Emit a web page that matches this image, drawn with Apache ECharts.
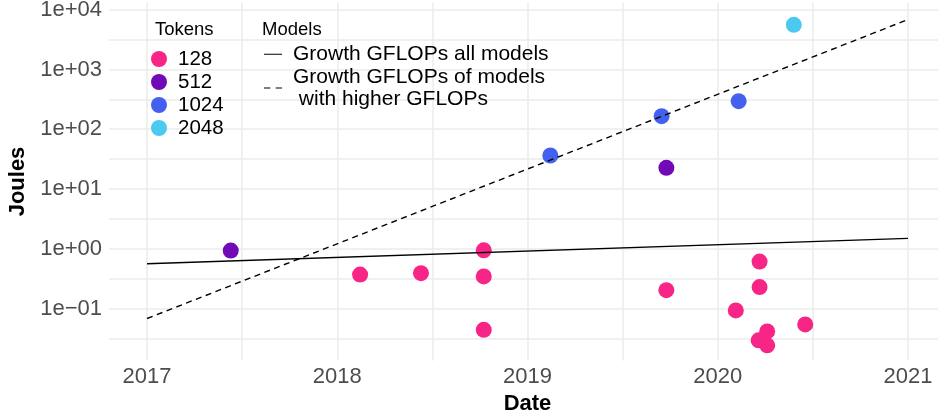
<!DOCTYPE html>
<html>
<head>
<meta charset="utf-8">
<script src="https://cdn.jsdelivr.net/npm/echarts@6/dist/echarts.min.js"></script>
<style>
  html, body { margin: 0; padding: 0; background: #fff; }
  #chart { width: 938px; height: 419px; }
</style>
</head>
<body>
<div id="chart"></div>
<script>
// points: decimal year, joules
var dates128 = [2018.12, 2018.44, 2018.77, 2018.77, 2018.77, 2019.73, 2020.22, 2020.22, 2020.095, 2020.26, 2020.215, 2020.26, 2020.46];
var joules128 = [0.37, 0.39, 0.94, 0.344, 0.044, 0.203, 0.61, 0.228, 0.093, 0.0414, 0.0293, 0.0242, 0.0542];
var dates512 = [2017.44, 2019.73];
var joules512 = [0.93, 22.6];
var dates1024 = [2019.12, 2019.705, 2020.11];
var joules1024 = [36.3, 165, 294];
var dates2048 = [2020.40];
var joules2048 = [5570];

// fitted growth lines, start and end
var lineDates = [2017, 2021];
var growthAll = [0.561, 1.49];
var growthHigh = [0.068, 6830];

var tokenNames = ['128', '512', '1024', '2048'];
var tokenColors = ['#F72585', '#7209B7', '#4361EE', '#4CC9F0'];
var modelNames = ['Growth GFLOPs all models', 'Growth GFLOPs of models\n with higher GFLOPs'];

var xLabelTicks = [2017, 2018, 2019, 2020, 2021];
var xGridTicks = [2017, 2017.5, 2018, 2018.5, 2019, 2019.5, 2020, 2020.5, 2021];
var yLabelTicks = [-1, 0, 1, 2, 3, 4];
var yGridTicks = [-1.5, -1, -0.5, 0, 0.5, 1, 1.5, 2, 2.5, 3, 3.5, 4];

var FONT = '"Liberation Sans", Arial, Helvetica, sans-serif';

function pairs(xs, ys) {
  var out = [];
  for (var i = 0; i < xs.length; i++) out.push([xs[i], Math.log10(ys[i])]);
  return out;
}

function expLabel(v) {
  var n = Math.round(v);
  var s = Math.abs(n) < 10 ? '0' + Math.abs(n) : '' + Math.abs(n);
  return '1e' + (n < 0 ? '\u2212' : '+') + s;
}

var chart = echarts.init(document.getElementById('chart'));

var pointSets = [[dates128, joules128], [dates512, joules512], [dates1024, joules1024], [dates2048, joules2048]];
var series = [];
for (var i = 0; i < tokenNames.length; i++) {
  series.push({
    name: tokenNames[i],
    type: 'scatter',
    data: pairs(pointSets[i][0], pointSets[i][1]),
    symbolSize: 16,
    itemStyle: { color: tokenColors[i], opacity: 1 },
    z: 2,
    silent: true
  });
}
series.push({
  name: modelNames[0],
  type: 'line',
  data: pairs(lineDates, growthAll),
  symbol: 'none',
  itemStyle: { color: '#000' },
  lineStyle: { color: '#000', width: 1.4, type: 'solid' },
  z: 3,
  silent: true
});
series.push({
  name: modelNames[1],
  type: 'line',
  data: pairs(lineDates, growthHigh),
  symbol: 'none',
  itemStyle: { color: '#000' },
  lineStyle: { color: '#000', width: 1.4, type: [6, 4.5] },
  z: 3,
  silent: true
});

var option = {
  animation: false,
  backgroundColor: '#fff',
  textStyle: { fontFamily: FONT },
  grid: { left: 109, top: 2.5, width: 837, height: 358, containLabel: false, outerBoundsMode: 'none' },
  xAxis: {
    type: 'value',
    min: 2016.8,
    max: 2021.2,
    name: 'Date',
    nameLocation: 'middle',
    nameGap: 32,
    nameTextStyle: { fontSize: 22, fontWeight: 'bold', color: '#000', fontFamily: FONT },
    axisLine: { show: false },
    axisTick: { show: false, customValues: xGridTicks },
    axisLabel: {
      customValues: xLabelTicks,
      fontSize: 22, color: '#4D4D4D', margin: 5, fontFamily: FONT,
      formatter: function (v) { return String(Math.round(v)); }
    },
    splitLine: { show: true, lineStyle: { color: '#EBEBEB', width: 1.5 } }
  },
  yAxis: {
    type: 'value',
    min: -1.87,
    max: 4.12,
    name: 'Joules',
    nameLocation: 'middle',
    nameGap: 70,
    nameRotate: 90,
    nameTextStyle: { fontSize: 22, fontWeight: 'bold', color: '#000', fontFamily: FONT },
    axisLine: { show: false },
    axisTick: { show: false, customValues: yGridTicks },
    axisLabel: {
      customValues: yLabelTicks,
      fontSize: 22, color: '#4D4D4D', margin: 7, fontFamily: FONT,
      formatter: expLabel
    },
    splitLine: { show: true, lineStyle: { color: '#EBEBEB', width: 1.5 } }
  },
  legend: [
    {
      data: tokenNames,
      orient: 'vertical',
      left: 151,
      top: 47.5,
      padding: 0,
      itemWidth: 16,
      itemHeight: 16,
      itemGap: 0,
      icon: 'circle',
      selectedMode: false,
      textStyle: { fontSize: 20.5, lineHeight: 23, color: '#000', padding: [0, 0, 0, 6], fontFamily: FONT }
    },
    {
      data: [
        { name: modelNames[0], icon: 'path://M0,0h18v1h-18z' },
        { name: modelNames[1], icon: 'path://M0,0h6v1h-6zM11,0h6v1h-6z' }
      ],
      orient: 'vertical',
      left: 264,
      top: 43,
      padding: 0,
      itemWidth: 18,
      itemHeight: 1.4,
      itemGap: 0,
      selectedMode: false,
      itemStyle: { color: '#000' },
      textStyle: { fontSize: 21, lineHeight: 22.5, color: '#000', padding: [0, 0, 0, 6], fontFamily: FONT }
    }
  ],
  graphic: [
    { type: 'text', left: 155, top: 20.5, style: { text: 'Tokens', fontSize: 18.5, fill: '#000', fontFamily: FONT } },
    { type: 'text', left: 262, top: 20.5, style: { text: 'Models', fontSize: 18.5, fill: '#000', fontFamily: FONT } }
  ],
  series: series
};

chart.setOption(option);
</script>
</body>
</html>
